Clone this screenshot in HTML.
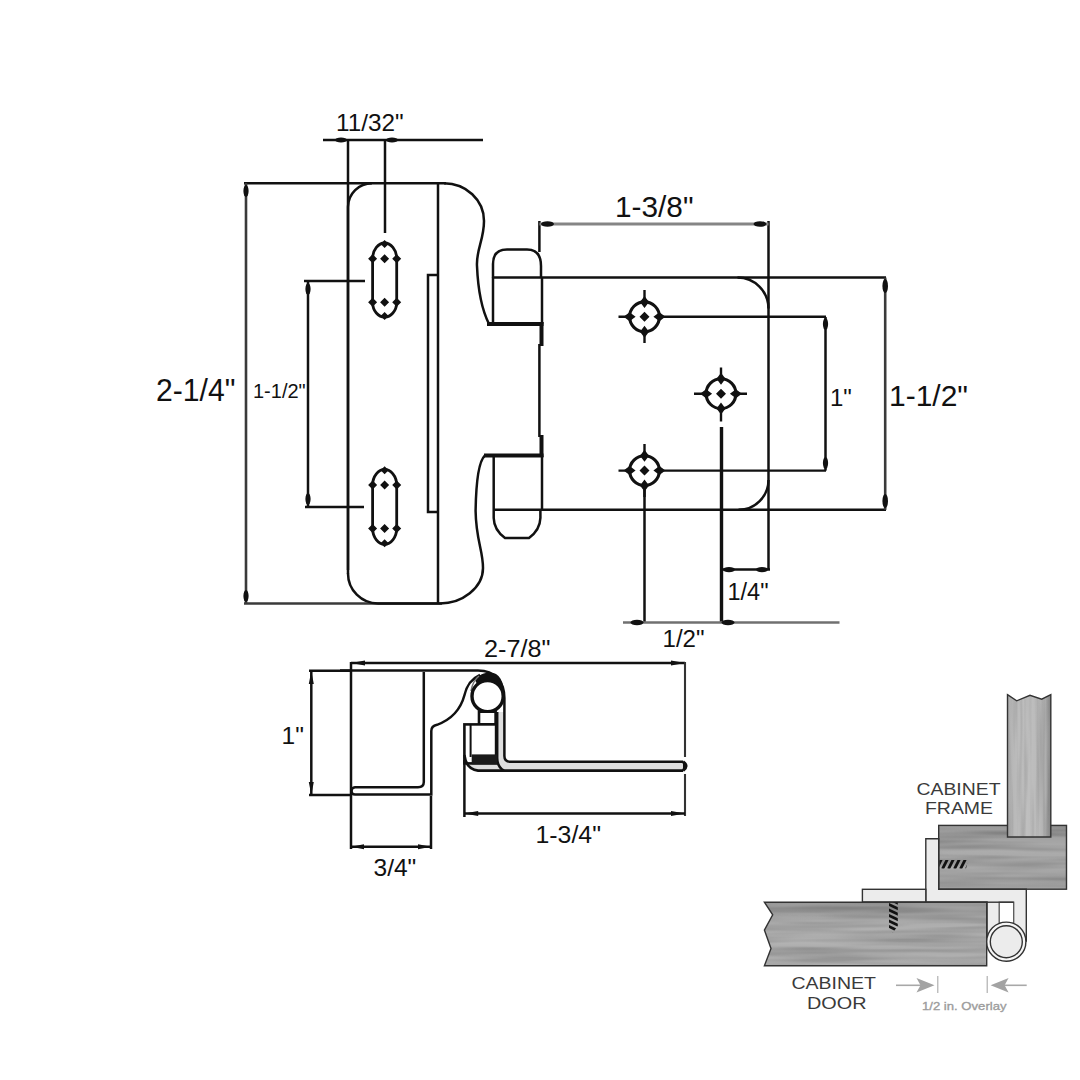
<!DOCTYPE html>
<html><head><meta charset="utf-8">
<style>
html,body{margin:0;padding:0;background:#fff;}
body{width:1080px;height:1080px;overflow:hidden;}
svg{display:block;}
text{font-family:"Liberation Sans",sans-serif;fill:#111;}
.k{stroke:#111;stroke-width:2.5;fill:none;}
.kt{stroke:#111;stroke-width:4;fill:none;}
.g{stroke:#3a3a3a;stroke-width:2.6;fill:none;}
.b{fill:#111;}
.w{stroke:#333;stroke-width:1.4;}
.lab{font-size:16.5px;fill:#3a3a3a;}
</style></head>
<body>
<svg width="1080" height="1080" viewBox="0 0 1080 1080">
<defs>
  <linearGradient id="woodH" x1="0" y1="0" x2="0" y2="1">
    <stop offset="0" stop-color="#8c8c8c"/>
    <stop offset="0.08" stop-color="#949494"/>
    <stop offset="0.16" stop-color="#909090"/>
    <stop offset="0.24" stop-color="#9a9a9a"/>
    <stop offset="0.34" stop-color="#a3a3a3"/>
    <stop offset="0.45" stop-color="#a7a7a7"/>
    <stop offset="0.55" stop-color="#a2a2a2"/>
    <stop offset="0.65" stop-color="#a8a8a8"/>
    <stop offset="0.75" stop-color="#9f9f9f"/>
    <stop offset="0.85" stop-color="#a6a6a6"/>
    <stop offset="0.93" stop-color="#aaaaaa"/>
    <stop offset="1" stop-color="#a3a3a3"/>
  </linearGradient>
  <linearGradient id="woodR" x1="0" y1="0" x2="0" y2="1">
    <stop offset="0" stop-color="#8e8e8e"/>
    <stop offset="0.15" stop-color="#929292"/>
    <stop offset="0.25" stop-color="#9a9a9a"/>
    <stop offset="0.4" stop-color="#a2a2a2"/>
    <stop offset="0.55" stop-color="#9d9d9d"/>
    <stop offset="0.7" stop-color="#a3a3a3"/>
    <stop offset="0.85" stop-color="#9b9b9b"/>
    <stop offset="1" stop-color="#a0a0a0"/>
  </linearGradient>
  <linearGradient id="woodV" x1="0" y1="0" x2="1" y2="0">
    <stop offset="0" stop-color="#a8a8a8"/>
    <stop offset="0.15" stop-color="#b2b2b2"/>
    <stop offset="0.45" stop-color="#b9b9b9"/>
    <stop offset="0.75" stop-color="#b2b2b2"/>
    <stop offset="0.88" stop-color="#a6a6a6"/>
    <stop offset="0.94" stop-color="#8e8e8e"/>
    <stop offset="1" stop-color="#7c7c7c"/>
  </linearGradient>
  <filter id="grainH" x="0" y="0" width="100%" height="100%" color-interpolation-filters="sRGB">
    <feTurbulence type="fractalNoise" baseFrequency="0.008 0.16" numOctaves="2" seed="7" result="n"/>
    <feColorMatrix in="n" type="matrix" values="2.2 0 0 0 -0.47  2.2 0 0 0 -0.47  2.2 0 0 0 -0.47  0 0 0 0 0.11"/>
  </filter>
  <filter id="grainV" x="0" y="0" width="100%" height="100%" color-interpolation-filters="sRGB">
    <feTurbulence type="fractalNoise" baseFrequency="0.22 0.01" numOctaves="2" seed="4" result="n"/>
    <feColorMatrix in="n" type="matrix" values="2.2 0 0 0 -0.35  2.2 0 0 0 -0.35  2.2 0 0 0 -0.35  0 0 0 0 0.09"/>
  </filter>
  <clipPath id="cRail"><rect x="938.7" y="825.4" width="127.8" height="63.8"/></clipPath>
  <clipPath id="cStile"><polygon points="1007.5,694.7 1016.7,700.8 1030,695.3 1041.7,699.2 1050.8,694.7 1050.8,837 1007.5,837"/></clipPath>
  <clipPath id="cDoor"><polygon points="764.4,902.2 986.7,902.2 986.7,965.7 764.4,965.7 771,948.5 764.4,930.1 772.7,914.8"/></clipPath>
  <clipPath id="cScrewD"><polygon points="889,902.5 897.8,902.5 897.8,926 893,932.5 889,928"/></clipPath>
  <clipPath id="cScrewR"><polygon points="939.5,860 968,860 966,868.5 939.5,868.5"/></clipPath>
</defs>

<!-- ============ TOP VIEW ============ -->
<!-- 11/32 dimension -->
<text x="336" y="130.8" font-size="24.3">11/32"</text>
<line class="k" x1="323" y1="140" x2="483" y2="140"/>
<ellipse class="b" cx="341" cy="140" rx="6" ry="2.6"/>
<ellipse class="b" cx="392" cy="140" rx="6" ry="2.6"/>
<line class="k" x1="348" y1="139" x2="348" y2="570"/>
<line class="k" x1="385" y1="139" x2="385" y2="233"/>

<!-- top horizontal and 2-1/4 dim -->
<line class="k" x1="244" y1="183.3" x2="446" y2="183.3"/>
<line class="g" x1="246" y1="183" x2="246" y2="604"/>
<ellipse class="b" cx="246" cy="191" rx="2.6" ry="6"/>
<ellipse class="b" cx="246" cy="596" rx="2.6" ry="6"/>
<line class="g" x1="244" y1="603.5" x2="442" y2="603.5"/>
<text x="156" y="400.6" font-size="30.5" textLength="79.5" lengthAdjust="spacingAndGlyphs">2-1/4"</text>

<!-- left 1-1/2 dim -->
<line class="k" x1="308" y1="281" x2="308" y2="507"/>
<line class="k" x1="304" y1="281" x2="365" y2="281"/>
<line class="k" x1="305" y1="507" x2="364" y2="507"/>
<ellipse class="b" cx="308" cy="289" rx="2.6" ry="6"/>
<ellipse class="b" cx="308" cy="499" rx="2.6" ry="6"/>
<text x="253" y="398" font-size="20">1-1/2"</text>

<!-- plate outline -->
<path class="k" d="M348,574 V207 A24,24 0 0 1 372,183.3"/>
<path class="k" d="M444,183.3 C466,183.3 484,200 484,221 C484,240 476,250 477,266 C478,290 482,310 489,324"/>
<path class="k" d="M484.8,455.6 C478,462 476,485 475.6,511 C476,540 483,550 483,568 C483,588 462,603.5 440,603.5 H378 A30,30 0 0 1 348,573.5"/>
<!-- fold lines -->
<line class="k" x1="438" y1="183" x2="438" y2="604"/>
<path class="k" d="M438,275 H428 V512 H438"/>

<!-- slots -->
<path d="M372.6,258.7 C372.6,249.7 378.6,243 384.6,243 C390.6,243 396.7,249.7 396.7,258.7 V302.2 C396.7,311.2 390.6,317 384.6,317 C378.6,317 372.6,311.2 372.6,302.2 Z" fill="none" stroke="#111" stroke-width="2.8"/>
<path d="M372.6,254.2 l4.5,4.5 -4.5,4.5 -4.5,-4.5z M384.6,254.2 l4.5,4.5 -4.5,4.5 -4.5,-4.5z M396.7,254.2 l4.5,4.5 -4.5,4.5 -4.5,-4.5z M372.6,297.7 l4.5,4.5 -4.5,4.5 -4.5,-4.5z M384.6,297.7 l4.5,4.5 -4.5,4.5 -4.5,-4.5z M396.7,297.7 l4.5,4.5 -4.5,4.5 -4.5,-4.5z M384.6,240 l4,4 -4,4 -4,-4z M384.6,312 l4,4 -4,4 -4,-4z" fill="#111"/>
<path d="M372.6,485 C372.6,476 378.6,469.3 384.6,469.3 C390.6,469.3 396.7,476 396.7,485 V528.5 C396.7,537.5 390.6,544.3 384.6,544.3 C378.6,544.3 372.6,537.5 372.6,528.5 Z" fill="none" stroke="#111" stroke-width="2.8"/>
<path d="M372.6,480.5 l4.5,4.5 -4.5,4.5 -4.5,-4.5z M384.6,480.5 l4.5,4.5 -4.5,4.5 -4.5,-4.5z M396.7,480.5 l4.5,4.5 -4.5,4.5 -4.5,-4.5z M372.6,524.0 l4.5,4.5 -4.5,4.5 -4.5,-4.5z M384.6,524.0 l4.5,4.5 -4.5,4.5 -4.5,-4.5z M396.7,524.0 l4.5,4.5 -4.5,4.5 -4.5,-4.5z M384.6,466.3 l4,4 -4,4 -4,-4z M384.6,539.3 l4,4 -4,4 -4,-4z" fill="#111"/>

<!-- knuckle 1 -->
<path class="k" d="M493,278 V264 Q493,249.5 507,249.5 H527 Q541,249.5 541,266 V278"/>
<line class="k" x1="493" y1="277.6" x2="493" y2="324"/>
<line class="k" x1="542" y1="277.6" x2="542" y2="324"/>
<line class="kt" x1="487" y1="324" x2="543.5" y2="324"/>
<line class="kt" x1="541.5" y1="322" x2="541.5" y2="346"/>
<!-- knuckle 2 -->
<line class="kt" x1="484" y1="455.6" x2="543.5" y2="455.6"/>
<line class="kt" x1="541.5" y1="435" x2="541.5" y2="457"/>
<line class="k" x1="493.7" y1="455.6" x2="493.7" y2="510"/>
<line class="k" x1="542" y1="455.6" x2="542" y2="510"/>
<path class="k" d="M493.7,510 V518 Q494,530 505,538 H529 Q540,530 540.4,518 V510"/>

<!-- leaf -->
<line class="k" x1="539.4" y1="221" x2="539.4" y2="252"/>
<line class="k" x1="539.4" y1="344" x2="539.4" y2="437"/>
<line class="k" x1="493" y1="277.6" x2="886" y2="277.6"/>
<line class="k" x1="493.7" y1="509.8" x2="886" y2="509.8"/>
<line class="k" x1="768.5" y1="221" x2="768.5" y2="570"/>
<path class="k" d="M737.5,277.6 A31,31 0 0 1 768.5,308.6"/>
<path class="k" d="M768.5,480 A30,30 0 0 1 738.5,509.8"/>

<!-- 1-3/8 dim -->
<line x1="539.4" y1="224" x2="768.5" y2="224" stroke="#858585" stroke-width="2.8"/>
<ellipse class="b" cx="547.5" cy="224" rx="6.5" ry="2.8"/>
<ellipse class="b" cx="760" cy="224" rx="6.5" ry="2.8"/>
<text x="615" y="216.8" font-size="29.5" textLength="78.5" lengthAdjust="spacingAndGlyphs">1-3/8"</text>

<!-- holes -->
<g stroke="#111" stroke-width="2.4">
  <line x1="644.5" y1="290" x2="644.5" y2="343"/>
  <line x1="618.5" y1="316.8" x2="826" y2="316.8"/>
  <line x1="721" y1="367.5" x2="721" y2="421.5"/>
  <line x1="694" y1="393.7" x2="747" y2="393.7"/>
  <line x1="644.5" y1="444" x2="644.5" y2="497"/>
  <line x1="618.5" y1="470.6" x2="826" y2="470.6"/>
</g>
<g fill="#fff" stroke="#111" stroke-width="3.1">
  <circle cx="644.5" cy="316.8" r="14.9"/>
  <circle cx="721" cy="393.7" r="14.9"/>
  <circle cx="644.5" cy="470.6" r="14.9"/>
</g>
<line class="k" x1="644.5" y1="490" x2="644.5" y2="622"/>
<line x1="721.5" y1="427" x2="721.5" y2="622" stroke="#111" stroke-width="3.4"/>
<g class="b">
  <path d="M644.5,311.8 l5,5 -5,5 -5,-5z M644.5,295.90000000000003 l4.5,6 -4.5,6 -4.5,-6z M644.5,325.7 l4.5,6 -4.5,6 -4.5,-6z M623.6,316.8 l6,-4.5 6,4.5 -6,4.5z M653.4,316.8 l6,-4.5 6,4.5 -6,4.5z"/>
  <path d="M721,388.7 l5,5 -5,5 -5,-5z M721,372.8 l4.5,6 -4.5,6 -4.5,-6z M721,402.59999999999997 l4.5,6 -4.5,6 -4.5,-6z M700.1,393.7 l6,-4.5 6,4.5 -6,4.5z M729.9,393.7 l6,-4.5 6,4.5 -6,4.5z"/>
  <path d="M644.5,465.6 l5,5 -5,5 -5,-5z M644.5,449.70000000000005 l4.5,6 -4.5,6 -4.5,-6z M644.5,479.5 l4.5,6 -4.5,6 -4.5,-6z M623.6,470.6 l6,-4.5 6,4.5 -6,4.5z M653.4,470.6 l6,-4.5 6,4.5 -6,4.5z"/>
</g>

<!-- right dims -->
<line class="k" x1="825.5" y1="317" x2="825.5" y2="470.6"/>
<ellipse class="b" cx="825.5" cy="324" rx="2.6" ry="6"/>
<ellipse class="b" cx="825.5" cy="463" rx="2.6" ry="6"/>
<text x="830" y="405.6" font-size="24">1"</text>
<line class="g" x1="885.2" y1="277.6" x2="885.2" y2="509.8"/>
<ellipse class="b" cx="885.2" cy="286" rx="2.8" ry="7"/>
<ellipse class="b" cx="885.2" cy="501" rx="2.8" ry="7"/>
<text x="889" y="405.9" font-size="29.5" textLength="79" lengthAdjust="spacingAndGlyphs">1-1/2"</text>

<!-- bottom dims -->
<line class="k" x1="721.5" y1="569.6" x2="770" y2="569.6"/>
<ellipse class="b" cx="729" cy="569.6" rx="6" ry="2.6"/>
<ellipse class="b" cx="762" cy="569.6" rx="6" ry="2.6"/>
<text x="727.5" y="599.6" font-size="23.5">1/4"</text>
<line x1="623" y1="622.5" x2="839.5" y2="622.5" stroke="#707070" stroke-width="2.4"/>
<ellipse class="b" cx="637" cy="622.5" rx="6.5" ry="2.8"/>
<ellipse class="b" cx="728" cy="622.5" rx="6.5" ry="2.8"/>
<text x="662.5" y="647.3" font-size="23.5" textLength="42" lengthAdjust="spacingAndGlyphs">1/2"</text>

<!-- ============ SIDE VIEW ============ -->
<line class="k" x1="351" y1="663" x2="685" y2="663"/>
<path class="b" d="M351,663 l14,-2.5 v5z M685,663 l-14,-2.5 v5z"/>
<text x="484" y="656.5" font-size="23.5" textLength="66.5" lengthAdjust="spacingAndGlyphs">2-7/8"</text>
<line class="k" x1="351" y1="662" x2="351" y2="849"/>
<line x1="685" y1="662" x2="685" y2="757" stroke="#333" stroke-width="2.1"/>
<line x1="685" y1="774" x2="685" y2="816" stroke="#333" stroke-width="2.1"/>

<!-- 1" vertical -->
<line class="k" x1="309" y1="670.8" x2="351" y2="670.8"/>
<line class="k" x1="309" y1="795" x2="351" y2="795"/>
<line class="k" x1="311.3" y1="670.8" x2="311.3" y2="795"/>
<path class="b" d="M311.3,671 l-2.5,13 h5z M311.3,795 l-2.5,-13 h5z"/>
<text x="281.5" y="744.4" font-size="24.5">1"</text>

<!-- plate side shapes -->
<path d="M497.2,712 H504.4 V756 Q504.4,761.7 510,761.7 H684 V770.6 H480 Q470,770 468,760 L497.2,760 Z" fill="#dedede"/>
<path class="k" d="M340,670.6 H478 C495,670.6 504.4,682 504.4,698 V756 Q504.4,761.7 510,761.7 H683"/>
<path class="k" d="M423.8,672 V782 Q423.8,787.2 418,787.2 H355 Q351.5,787.5 351.5,791 Q351.5,794.6 355,794.6 H431.3 V731 Q431.3,726 437,724.8 C450,720 460,712 464.5,695 C467,685 471,679 480,675"/>
<path class="k" d="M497.2,712 V758 Q497.2,767 504,770.6"/>
<path d="M683,761.7 Q689,766 683,770.6" stroke="#111" stroke-width="3.2" fill="#111"/>
<path d="M475,680 C479,674.5 484,672.5 490,672.5 C499,672.5 504.4,681 504.4,697 L502.5,697 A15.8,15.8 0 0 0 477,684 Z" fill="#111"/>
<path d="M479,676 C474,680 472,685 471,691" stroke="#777" stroke-width="1.5" fill="none"/>
<circle cx="487.6" cy="696.2" r="15.6" fill="#fff" stroke="#111" stroke-width="3.4"/>
<rect x="479" y="711.7" width="16.6" height="12.7" fill="#fff" stroke="#111" stroke-width="2.6"/>
<rect x="464.4" y="724.4" width="31.7" height="39" fill="#fff" stroke="#111" stroke-width="2.6"/>
<line x1="470.6" y1="724.4" x2="470.6" y2="757" stroke="#111" stroke-width="2"/>
<rect x="471.7" y="754.4" width="25.5" height="10" fill="#1a1a1a"/>
<path d="M464.4,755 Q466,769 478,770.6 H683" stroke="#111" stroke-width="2.6" fill="none"/>
<line x1="464.4" y1="760" x2="464.4" y2="817" stroke="#111" stroke-width="2.5"/>

<!-- 3/4 dim -->
<line class="k" x1="431" y1="796" x2="431" y2="849"/>
<line class="k" x1="351" y1="846.7" x2="431" y2="846.7"/>
<path class="b" d="M351,846.7 l13,-2.5 v5z M431,846.7 l-13,-2.5 v5z"/>
<text x="373.5" y="875.6" font-size="24.5">3/4"</text>

<!-- 1-3/4 dim -->
<line class="k" x1="464.2" y1="813.4" x2="685" y2="813.4"/>
<path class="b" d="M464.2,813.4 l14,-2.5 v5z M685,813.4 l-14,-2.5 v5z"/>
<text x="535.5" y="843.4" font-size="23.5" textLength="65.5" lengthAdjust="spacingAndGlyphs">1-3/4"</text>

<!-- ============ CABINET ILLUSTRATION ============ -->
<rect x="938.7" y="825.4" width="127.8" height="63.8" fill="url(#woodR)"/>
<rect x="938.7" y="825.4" width="127.8" height="63.8" filter="url(#grainH)" clip-path="url(#cRail)"/>
<rect x="938.7" y="825.4" width="127.8" height="63.8" fill="none" class="w"/>
<polygon points="1007.5,694.7 1016.7,700.8 1030,695.3 1041.7,699.2 1050.8,694.7 1050.8,837 1007.5,837" fill="url(#woodV)"/>
<g clip-path="url(#cStile)"><rect x="1007" y="694" width="44" height="144" filter="url(#grainV)"/></g>
<polygon points="1007.5,694.7 1016.7,700.8 1030,695.3 1041.7,699.2 1050.8,694.7 1050.8,837 1007.5,837" fill="none" class="w"/>
<polygon points="925.8,838.8 938.7,838.8 938.7,889.2 1026.3,889.2 1026.3,941 987,941 987,902 925.8,902" fill="#ececec" class="w"/>
<rect x="862.4" y="889.3" width="63.4" height="12.7" fill="#ececec" class="w"/>
<polygon points="764.4,902.2 986.7,902.2 986.7,965.7 764.4,965.7 771,948.5 764.4,930.1 772.7,914.8" fill="url(#woodH)"/>
<g clip-path="url(#cDoor)"><rect x="764" y="902" width="223" height="64" filter="url(#grainH)"/></g>
<polygon points="764.4,902.2 986.7,902.2 986.7,965.7 764.4,965.7 771,948.5 764.4,930.1 772.7,914.8" fill="none" class="w"/>
<rect x="999.2" y="902.2" width="14.5" height="21" fill="#fff" stroke="#555" stroke-width="1.3"/>
<line x1="986.7" y1="902.2" x2="1013.7" y2="902.2" stroke="#333" stroke-width="1.4"/>
<circle cx="1006.3" cy="941.7" r="19.6" fill="#f6f6f6" class="w"/>
<circle cx="1006.3" cy="941.7" r="16" fill="#ececec" class="w"/>
<!-- screws -->
<g clip-path="url(#cScrewD)" stroke="#111" stroke-width="2.6"><line x1="888" y1="898.5" x2="898.5" y2="903.5"/><line x1="888" y1="904" x2="898.5" y2="909"/><line x1="888" y1="909.5" x2="898.5" y2="914.5"/><line x1="888" y1="915" x2="898.5" y2="920"/><line x1="888" y1="920.5" x2="898.5" y2="925.5"/><line x1="888" y1="926" x2="898.5" y2="931"/><line x1="888" y1="931.5" x2="898.5" y2="936.5"/></g>
<g clip-path="url(#cScrewR)" stroke="#111" stroke-width="2.8"><line x1="936.5" y1="869" x2="941.5" y2="859"/><line x1="942.5" y1="869" x2="947.5" y2="859"/><line x1="948.5" y1="869" x2="953.5" y2="859"/><line x1="954.5" y1="869" x2="959.5" y2="859"/><line x1="960.5" y1="869" x2="965.5" y2="859"/><line x1="966.5" y1="869" x2="971.5" y2="859"/></g>
<text class="lab" x="916.5" y="794.9" textLength="84" lengthAdjust="spacingAndGlyphs">CABINET</text>
<text class="lab" x="925" y="813.6" textLength="68" lengthAdjust="spacingAndGlyphs">FRAME</text>
<text class="lab" x="791.5" y="989.2" textLength="84.5" lengthAdjust="spacingAndGlyphs">CABINET</text>
<text class="lab" x="807" y="1008.6" textLength="59.5" lengthAdjust="spacingAndGlyphs">DOOR</text>
<!-- overlay arrows -->
<g stroke="#a8a8a8" stroke-width="1.6" fill="#a3a3a3">
  <line x1="896" y1="985.3" x2="925" y2="985.3"/>
  <path d="M934.5,985.3 L916.5,978 L920.5,985.3 L916.5,992.6 Z" stroke="none"/>
  <line x1="937.8" y1="976" x2="937.8" y2="993" stroke-width="1.1"/>
  <line x1="1000" y1="985.3" x2="1026.7" y2="985.3"/>
  <path d="M990.6,985.3 L1008.6,978 L1004.6,985.3 L1008.6,992.6 Z" stroke="none"/>
  <line x1="987.2" y1="976" x2="987.2" y2="993" stroke-width="1.1"/>
</g>
<text x="922" y="1010.3" font-size="11.6" style="fill:#9c9c9c;stroke:#9c9c9c;stroke-width:0.35px" textLength="84.5" lengthAdjust="spacingAndGlyphs">1/2 in. Overlay</text>
</svg>
</body></html>
